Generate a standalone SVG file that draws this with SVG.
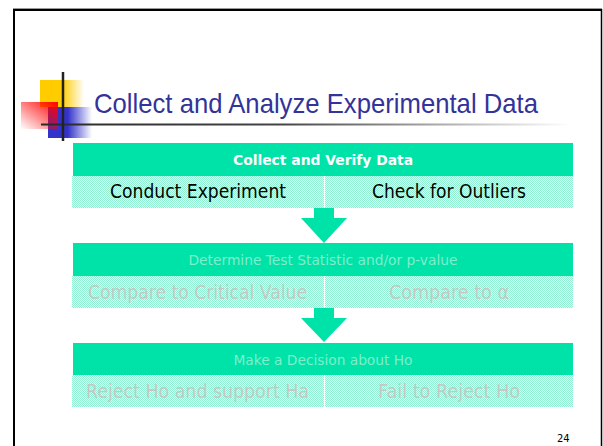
<svg xmlns="http://www.w3.org/2000/svg" width="603" height="446" viewBox="0 0 603 446">
<style>
  .t { font-family: "DejaVu Sans", Verdana, sans-serif; }
  .bar { fill: #00E3A8; }
  .sub { fill: url(#dither); }
  .hdr { font-size: 14px; text-anchor: middle; }
  .faint { fill: #7FEECB; }
  .cell { font-size: 19px; }
  .grey { fill: #C6C6C6; }
  .arrow { fill: #00E3A8; }
</style>
<defs>
  <pattern id="dither" width="2" height="2" patternUnits="userSpaceOnUse">
    <rect width="2" height="2" fill="#E2FAF2"/>
    <rect width="1" height="1" fill="#94F0D3"/>
    <rect x="1" y="1" width="1" height="1" fill="#94F0D3"/>
  </pattern>
  <linearGradient id="gY" x1="0" y1="0" x2="1" y2="0">
    <stop offset="0" stop-color="#FFCC00"/>
    <stop offset="0.5" stop-color="#FFCC00"/>
    <stop offset="1" stop-color="#FFCC00" stop-opacity="0"/>
  </linearGradient>
  <linearGradient id="gB" x1="0" y1="0" x2="1" y2="0">
    <stop offset="0" stop-color="#3333CC"/>
    <stop offset="0.45" stop-color="#3333CC"/>
    <stop offset="1" stop-color="#3333CC" stop-opacity="0"/>
  </linearGradient>
  <linearGradient id="gR" x1="1" y1="0" x2="0" y2="1">
    <stop offset="0" stop-color="#FF0000"/>
    <stop offset="1" stop-color="#FF0000" stop-opacity="0"/>
  </linearGradient>
  <linearGradient id="gL" x1="0" y1="0" x2="1" y2="0">
    <stop offset="0" stop-color="#2A2A2A"/>
    <stop offset="0.45" stop-color="#444444"/>
    <stop offset="1" stop-color="#FFFFFF"/>
  </linearGradient>
</defs>

<g id="frame">
  <line x1="13" y1="8.5" x2="602" y2="8.5" stroke="#9A9A9A" stroke-width="1"/>
  <line x1="13" y1="10" x2="602" y2="10" stroke="#000" stroke-width="2"/>
  <line x1="14" y1="9" x2="14" y2="446" stroke="#000" stroke-width="2"/>
  <line x1="601.5" y1="9" x2="601.5" y2="446" stroke="#000" stroke-width="1.5"/>
</g>

<g id="logo">
  <rect x="40" y="80" width="44" height="27" fill="url(#gY)"/>
  <rect x="48" y="107" width="44" height="31" fill="url(#gB)"/>
  <rect x="21" y="102" width="37" height="27" fill="url(#gR)"/>
  <rect x="41" y="123.5" width="530" height="2" fill="url(#gL)"/>
  <line x1="63" y1="72" x2="63" y2="141" stroke="#222" stroke-width="2.5"/>
</g>

<g id="title">
  <text x="94" y="113" font-family="'Liberation Sans', Arial, sans-serif" font-size="28" fill="#333399" textLength="444" lengthAdjust="spacingAndGlyphs">Collect and Analyze Experimental Data</text>
</g>

<g id="step1">
  <rect class="bar" x="73" y="143" width="500" height="33"/>
  <text class="t hdr" x="323" y="165" font-weight="bold" fill="#FFFFFF" textLength="180" lengthAdjust="spacingAndGlyphs">Collect and Verify Data</text>
</g>
<g id="step1-left">
  <rect class="sub" x="72" y="176" width="252" height="32"/>
  <text class="t cell" x="110" y="198" fill="#000" textLength="176" lengthAdjust="spacingAndGlyphs">Conduct Experiment</text>
</g>
<g id="step1-right">
  <rect class="sub" x="325" y="176" width="248" height="32"/>
  <text class="t cell" x="372" y="198" fill="#000" textLength="154" lengthAdjust="spacingAndGlyphs">Check for Outliers</text>
</g>

<g id="step2">
  <rect class="bar" x="73" y="243" width="500" height="33"/>
  <text class="t hdr faint" x="323" y="265" textLength="269" lengthAdjust="spacingAndGlyphs">Determine Test Statistic and/or p-value</text>
</g>
<g id="step2-left">
  <rect class="sub" x="72" y="276" width="252" height="32"/>
  <text class="t cell grey" x="88" y="299" textLength="219" lengthAdjust="spacingAndGlyphs">Compare to Critical Value</text>
</g>
<g id="step2-right">
  <rect class="sub" x="325" y="276" width="248" height="32"/>
  <text class="t cell grey" x="389" y="299" textLength="120" lengthAdjust="spacingAndGlyphs">Compare to α</text>
</g>

<g id="step3">
  <rect class="bar" x="73" y="343" width="500" height="32"/>
  <text class="t hdr faint" x="323" y="365" textLength="179" lengthAdjust="spacingAndGlyphs">Make a Decision about Ho</text>
</g>
<g id="step3-left">
  <rect class="sub" x="72" y="375" width="252" height="32"/>
  <text class="t cell grey" x="86" y="398" textLength="223" lengthAdjust="spacingAndGlyphs">Reject Ho and support Ha</text>
</g>
<g id="step3-right">
  <rect class="sub" x="325" y="375" width="248" height="32"/>
  <text class="t cell grey" x="378" y="398" textLength="142" lengthAdjust="spacingAndGlyphs">Fail to Reject Ho</text>
</g>

<g id="connectors">
  <polygon class="arrow" points="314,208 334,208 334,218 347,218 324,243 301,218 314,218"/>
  <polygon class="arrow" points="314,308 334,308 334,318 347,318 324,342 301,318 314,318"/>
</g>

<g id="page-number">
  <text class="t" x="557" y="442" font-size="10" fill="#000">24</text>
</g>
</svg>
